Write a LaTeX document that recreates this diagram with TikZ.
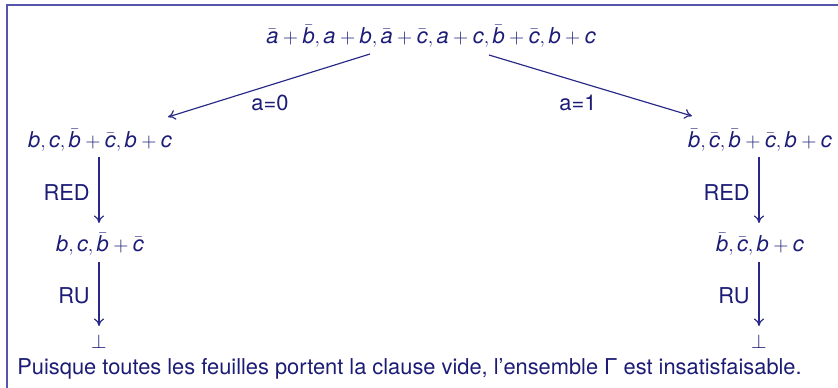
\documentclass[tikz,border=0pt]{standalone}
\usepackage{fontspec}
\setmainfont{TeX Gyre Heros}
\usetikzlibrary{arrows.meta}
\definecolor{txt}{RGB}{28,28,118}
\definecolor{frm}{RGB}{85,85,170}
\definecolor{arr}{RGB}{40,40,135}
\newcommand\va{\textit{a}}
\newcommand\vb{\textit{b}}
\newcommand\vc{\textit{c}}
\newcommand\nva{\bar{\textit{a}}}
\newcommand\nvb{\bar{\textit{b}}}
\newcommand\nvc{\bar{\textit{c}}}
\begin{document}
\begin{tikzpicture}[x=0.6pt,y=-0.6pt,
  every node/.style={text=txt,font=\fontsize{13.1}{15}\selectfont,inner sep=0pt},
  clause/.style={anchor=center},
  lab/.style={anchor=center},
  conn/.style={draw=arr,line width=0.7pt,-{To[length=4.5pt,width=6pt]}},
  frame/.style={draw=frm,line width=1.2pt}]
\useasboundingbox (0,0) rectangle (838,388);
\draw[frame] (845,5) -- (7,5) -- (7,395);
\node[clause] (r) at (431,36) {$\nva+\nvb,\va+\vb,\nva+\nvc,\va+\vc,\nvb+\nvc,\vb+\vc$};
\node[clause] (l1) at (100,140) {$\vb,\vc,\nvb+\nvc,\vb+\vc$};
\node[clause] (r1) at (760,140) {$\nvb,\nvc,\nvb+\nvc,\vb+\vc$};
\node[clause] (l2) at (100,244) {$\vb,\vc,\nvb+\nvc$};
\node[clause] (r2) at (760,244) {$\nvb,\nvc,\vb+\vc$};
\node[clause] (l3) at (99,342) {$\bot$};
\node[clause] (r3) at (759,342) {$\bot$};
\coordinate (rs1) at (370,54);
\coordinate (rs2) at (489,55);
\coordinate (lt) at (168,117);
\coordinate (rt) at (692,116);
\draw[conn] (rs1) -- (lt);
\draw[conn] (rs2) -- (rt);
\node[lab] (la0) at (270,103) {a=0};
\node[lab] (la1) at (578,103) {a=1};
\coordinate (l1s) at (99,157);
\coordinate (l2n) at (99,223);
\coordinate (l2s) at (99,262);
\coordinate (l3n) at (99,326);
\coordinate (r1s) at (759,157);
\coordinate (r2n) at (759,223);
\coordinate (r2s) at (759,262);
\coordinate (r3n) at (759,326);
\draw[conn] (l1s) -- (l2n);
\draw[conn] (l2s) -- (l3n);
\draw[conn] (r1s) -- (r2n);
\draw[conn] (r2s) -- (r3n);
\node[lab,anchor=east] (red1) at (90,193) {RED};
\node[lab,anchor=east] (ru1) at (90,296) {RU};
\node[lab,anchor=east] (red2) at (750,193) {RED};
\node[lab,anchor=east] (ru2) at (750,296) {RU};
\node[anchor=west] (concl) at (17,369) {Puisque toutes les feuilles portent la clause vide, l’ensemble Γ est insatisfaisable.};
\end{tikzpicture}
\end{document}
